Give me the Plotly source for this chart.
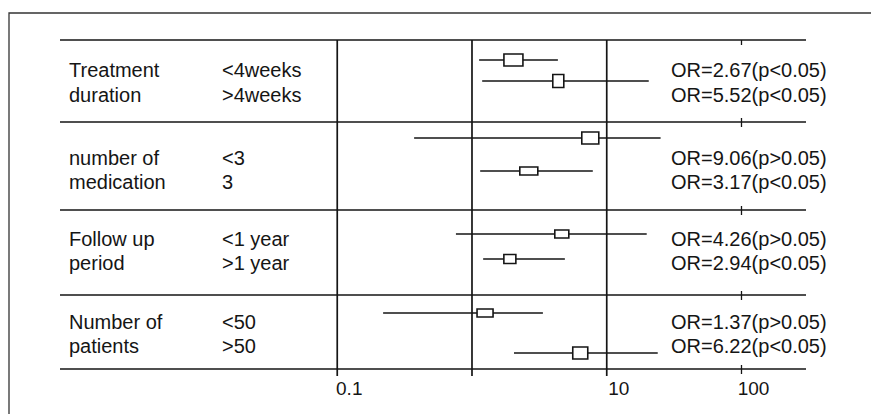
import plotly.graph_objects as go

# ---------------- data ----------------
group_line1 = ["Treatment", "number of", "Follow up", "Number of"]
group_line2 = ["duration", "medication", "period", "patients"]
subgroups = ["<4weeks", ">4weeks", "<3", "3", "<1 year", ">1 year", "<50", ">50"]
or_values = [2.67, 5.52, 9.06, 3.17, 4.26, 2.94, 1.37, 6.22]
p_labels = ["p<0.05", "p<0.05", "p>0.05", "p<0.05", "p>0.05", "p<0.05", "p>0.05", "p<0.05"]
box_center = [2.03, 4.37, 7.55, 2.64, 4.64, 1.91, 1.25, 6.36]
ci_low = [1.13, 1.19, 0.372, 1.15, 0.76, 1.21, 0.219, 2.05]
ci_high = [4.34, 20.5, 25.1, 7.88, 19.8, 4.89, 3.36, 23.9]
ref_lines = [0.1, 1, 10]
tick_vals = [0.1, 10, 100]
tick_text = ["0.1", "10", "100"]

# ---------------- layout / style ----------------
W, H = 871, 414
BOTTOM = 36
PLOT_H = H - BOTTOM
INK = "#151515"
FONT = "Liberation Sans, Arial, Helvetica, sans-serif"
PX_PER_DECADE = 134.75
X_AT_ONE = 471.99

sep_y = [40, 122, 210, 295, 369]
ci_y = [60, 81, 138, 171, 234, 259, 313, 353]
text_y = [70, 95, 158, 182, 239, 263, 322, 346]
box_size = [(19, 12), (11, 13), (17, 12), (18, 8), (14, 8), (12, 9), (16, 8), (15, 12)]

fig = go.Figure()

xs, ys = [], []
for lo, hi, y in zip(ci_low, ci_high, ci_y):
    xs += [lo, hi, None]
    ys += [y, y, None]
fig.add_trace(go.Scatter(x=xs, y=ys, mode="lines",
                         line=dict(color=INK, width=1.6),
                         hoverinfo="skip", showlegend=False))

shapes = []
# outer frame (left + top borders)
shapes.append(dict(type="rect", xref="paper", yref="paper",
                   x0=9 / W, x1=1.05, y0=-0.2, y1=(PLOT_H - 13) / PLOT_H,
                   line=dict(color="#333333", width=1.3), layer="below"))
# separators
for s in sep_y:
    shapes.append(dict(type="line", xref="paper", yref="y",
                       x0=60 / W, x1=806 / W, y0=s, y1=s,
                       line=dict(color=INK, width=1.6)))
# vertical reference lines
for v in ref_lines:
    shapes.append(dict(type="line", xref="x", yref="y",
                       x0=v, x1=v, y0=sep_y[0], y1=376,
                       line=dict(color=INK, width=1.7)))
# small tick marks at 100 on separators
for i, s in enumerate(sep_y):
    shapes.append(dict(type="line", xref="x", yref="y",
                       x0=100, x1=100, y0=s if i == 0 else s - 4, y1=s + 5,
                       line=dict(color=INK, width=1.3)))
# boxes (size given in px, converted through the log scale)
for c, y, (w, h) in zip(box_center, ci_y, box_size):
    f = 10 ** (w / 2 / PX_PER_DECADE)
    shapes.append(dict(type="rect", xref="x", yref="y",
                       x0=c / f, x1=c * f, y0=y - h / 2, y1=y + h / 2,
                       fillcolor="white", line=dict(color=INK, width=1.6)))

annotations = []
tf = dict(family=FONT, size=20, color=INK)
for g in range(4):
    for k, txt in enumerate([group_line1[g], group_line2[g]]):
        annotations.append(dict(x=67 / W, xref="paper", y=text_y[2 * g + k], yref="y",
                                text=txt, showarrow=False, xanchor="left",
                                yanchor="middle", font=tf))
for i in range(8):
    annotations.append(dict(x=220 / W, xref="paper", y=text_y[i], yref="y",
                            text=subgroups[i].replace("<", "&lt;").replace(">", "&gt;"),
                            showarrow=False, xanchor="left", yanchor="middle", font=tf))
    lab = f"OR={or_values[i]:.2f}({p_labels[i]})"
    annotations.append(dict(x=669 / W, xref="paper", y=text_y[i], yref="y",
                            text=lab.replace("<", "&lt;").replace(">", "&gt;"),
                            showarrow=False, xanchor="left", yanchor="middle", font=tf))

x_left = -X_AT_ONE / PX_PER_DECADE
x_right = (W - X_AT_ONE) / PX_PER_DECADE

fig.update_layout(
    width=W, height=H,
    margin=dict(l=0, r=0, t=0, b=BOTTOM, pad=0),
    paper_bgcolor="white", plot_bgcolor="white",
    shapes=shapes, annotations=annotations,
    showlegend=False,
    xaxis=dict(type="log", range=[x_left, x_right], showgrid=False, zeroline=False,
               showline=False, ticks="", tickvals=tick_vals, ticktext=tick_text,
               tickfont=dict(family=FONT, size=19, color=INK),
               ticklabelshift=12, ticklabelstandoff=-3, fixedrange=True),
    yaxis=dict(range=[PLOT_H, 0], visible=False, fixedrange=True),
)

fig.write_html("out.html", config={"displayModeBar": False},
               post_script="document.body.style.margin='0';document.body.style.padding='0';document.body.style.overflow='hidden';")
